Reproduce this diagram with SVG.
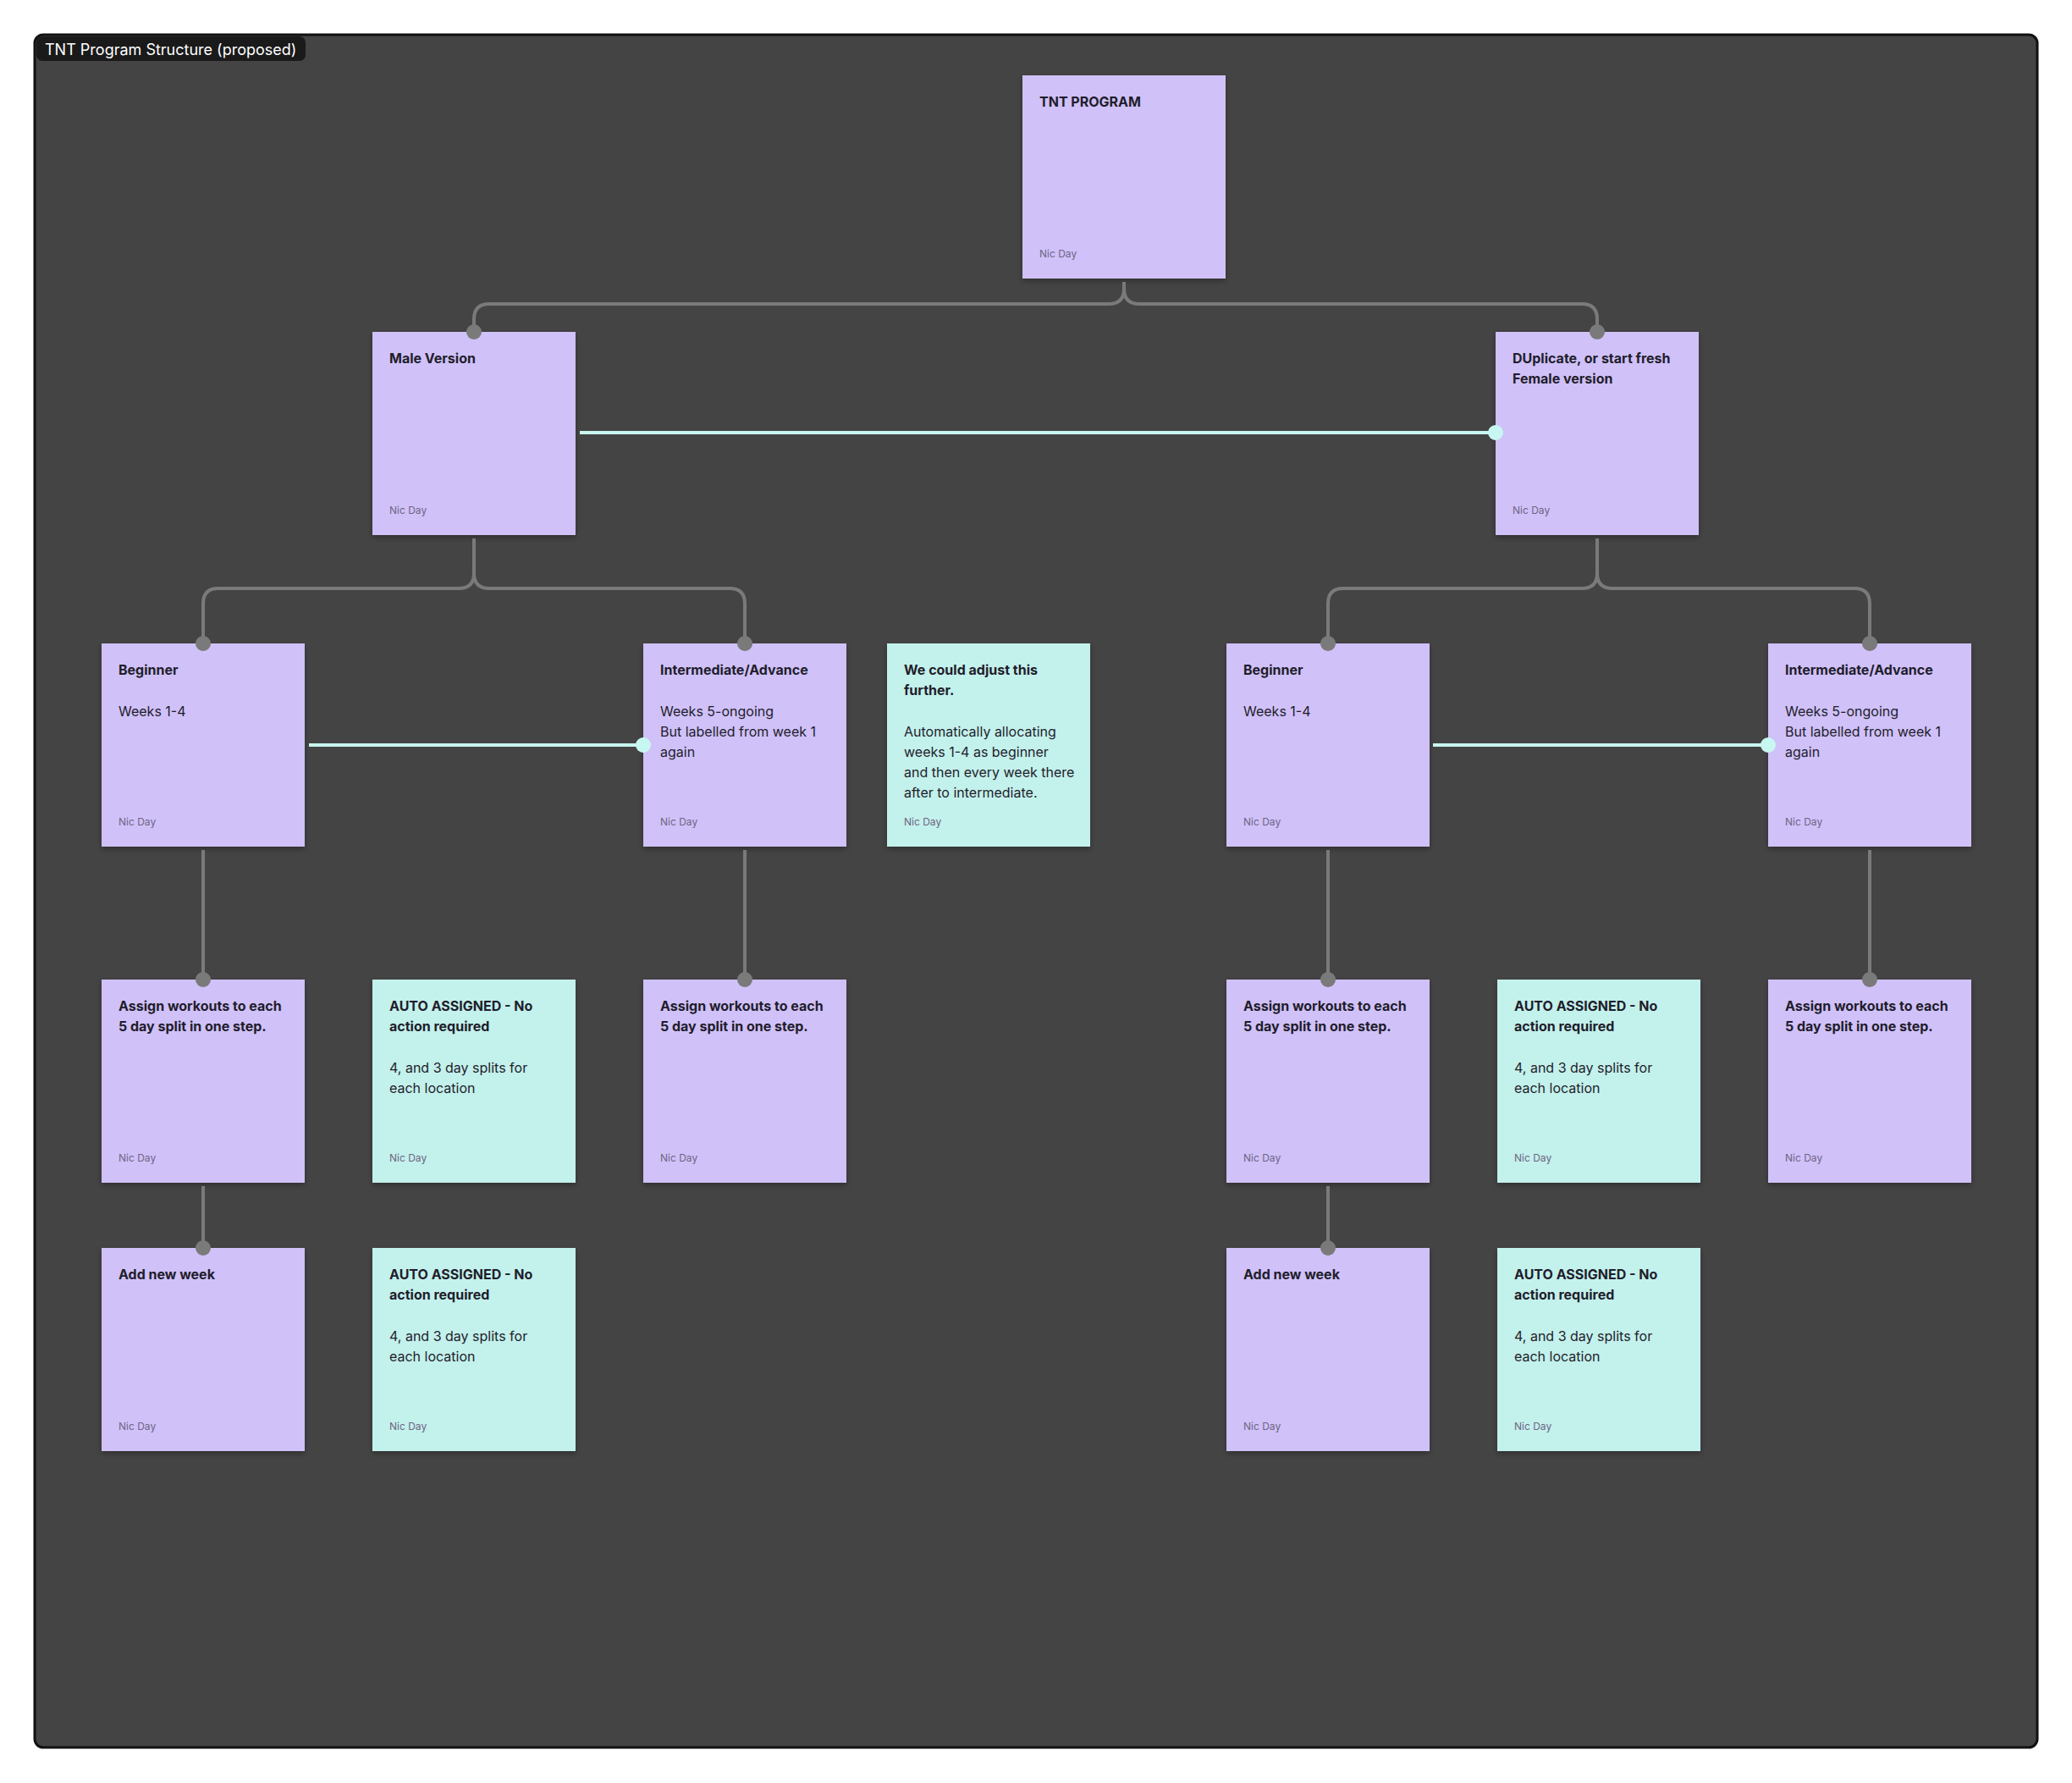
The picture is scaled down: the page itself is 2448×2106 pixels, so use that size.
<svg xmlns="http://www.w3.org/2000/svg" width="2448" height="2106" viewBox="0 0 2448 2106">
<style>
.p{fill:#d0c1f9}.t{fill:#c3f1ec}
.h{font-family:Inter,"Liberation Sans",sans-serif;font-size:16px;font-weight:700;fill:#1f1d2b}
.b{font-family:Inter,"Liberation Sans",sans-serif;font-size:16px;fill:#1f1d2b}
.a{font-family:Inter,"Liberation Sans",sans-serif;font-size:12px;fill:#6e6684}
.c{fill:none;stroke:#7a7a7a;stroke-width:4}
.l{fill:none;stroke:#c8f6f1;stroke-width:4}
.d{fill:#7a7a7a}.e{fill:#c8f6f1}
</style>
<defs><filter id="sh" x="-10%" y="-10%" width="120%" height="125%"><feDropShadow dx="0" dy="3" stdDeviation="3" flood-color="#000" flood-opacity="0.3"/></filter></defs>
<rect x="0" y="0" width="2448" height="2106" fill="#fff"/>
<rect x="41" y="41" width="2366" height="2023" rx="10" fill="#444" stroke="#111" stroke-width="3"/>
<rect x="43" y="43" width="318" height="29" rx="7" fill="#1a1a1a"/>
<text x="53" y="65" font-family="Inter,'Liberation Sans',sans-serif" font-size="18" fill="#fff">TNT Program Structure (proposed)</text>
<g id="n-tnt"><rect class="p" x="1208" y="89" width="240" height="240" filter="url(#sh)"/><text class="h" x="1228" y="126">TNT PROGRAM</text><text class="a" x="1228" y="304">Nic Day</text></g>
<g id="n-male"><rect class="p" x="440" y="392" width="240" height="240" filter="url(#sh)"/><text class="h" x="460" y="429">Male Version</text><text class="a" x="460" y="607">Nic Day</text></g>
<g id="n-female"><rect class="p" x="1767" y="392" width="240" height="240" filter="url(#sh)"/><text class="h" x="1787" y="429">DUplicate, or start fresh</text><text class="h" x="1787" y="453">Female version</text><text class="a" x="1787" y="607">Nic Day</text></g>
<g id="n-beg1"><rect class="p" x="120" y="760" width="240" height="240" filter="url(#sh)"/><text class="h" x="140" y="797">Beginner</text><text class="b" x="140" y="846">Weeks 1-4</text><text class="a" x="140" y="975">Nic Day</text></g>
<g id="n-int1"><rect class="p" x="760" y="760" width="240" height="240" filter="url(#sh)"/><text class="h" x="780" y="797">Intermediate/Advance</text><text class="b" x="780" y="846">Weeks 5-ongoing</text><text class="b" x="780" y="870">But labelled from week 1</text><text class="b" x="780" y="894">again</text><text class="a" x="780" y="975">Nic Day</text></g>
<g id="n-note"><rect class="t" x="1048" y="760" width="240" height="240" filter="url(#sh)"/><text class="h" x="1068" y="797">We could adjust this</text><text class="h" x="1068" y="821">further.</text><text class="b" x="1068" y="870">Automatically allocating</text><text class="b" x="1068" y="894">weeks 1-4 as beginner</text><text class="b" x="1068" y="918">and then every week there</text><text class="b" x="1068" y="942">after to intermediate.</text><text class="a" x="1068" y="975">Nic Day</text></g>
<g id="n-beg2"><rect class="p" x="1449" y="760" width="240" height="240" filter="url(#sh)"/><text class="h" x="1469" y="797">Beginner</text><text class="b" x="1469" y="846">Weeks 1-4</text><text class="a" x="1469" y="975">Nic Day</text></g>
<g id="n-int2"><rect class="p" x="2089" y="760" width="240" height="240" filter="url(#sh)"/><text class="h" x="2109" y="797">Intermediate/Advance</text><text class="b" x="2109" y="846">Weeks 5-ongoing</text><text class="b" x="2109" y="870">But labelled from week 1</text><text class="b" x="2109" y="894">again</text><text class="a" x="2109" y="975">Nic Day</text></g>
<g id="n-as1"><rect class="p" x="120" y="1157" width="240" height="240" filter="url(#sh)"/><text class="h" x="140" y="1194">Assign workouts to each</text><text class="h" x="140" y="1218">5 day split in one step.</text><text class="a" x="140" y="1372">Nic Day</text></g>
<g id="n-auto1"><rect class="t" x="440" y="1157" width="240" height="240" filter="url(#sh)"/><text class="h" x="460" y="1194">AUTO ASSIGNED - No</text><text class="h" x="460" y="1218">action required</text><text class="b" x="460" y="1267">4, and 3 day splits for</text><text class="b" x="460" y="1291">each location</text><text class="a" x="460" y="1372">Nic Day</text></g>
<g id="n-as2"><rect class="p" x="760" y="1157" width="240" height="240" filter="url(#sh)"/><text class="h" x="780" y="1194">Assign workouts to each</text><text class="h" x="780" y="1218">5 day split in one step.</text><text class="a" x="780" y="1372">Nic Day</text></g>
<g id="n-as3"><rect class="p" x="1449" y="1157" width="240" height="240" filter="url(#sh)"/><text class="h" x="1469" y="1194">Assign workouts to each</text><text class="h" x="1469" y="1218">5 day split in one step.</text><text class="a" x="1469" y="1372">Nic Day</text></g>
<g id="n-auto2"><rect class="t" x="1769" y="1157" width="240" height="240" filter="url(#sh)"/><text class="h" x="1789" y="1194">AUTO ASSIGNED - No</text><text class="h" x="1789" y="1218">action required</text><text class="b" x="1789" y="1267">4, and 3 day splits for</text><text class="b" x="1789" y="1291">each location</text><text class="a" x="1789" y="1372">Nic Day</text></g>
<g id="n-as4"><rect class="p" x="2089" y="1157" width="240" height="240" filter="url(#sh)"/><text class="h" x="2109" y="1194">Assign workouts to each</text><text class="h" x="2109" y="1218">5 day split in one step.</text><text class="a" x="2109" y="1372">Nic Day</text></g>
<g id="n-week1"><rect class="p" x="120" y="1474" width="240" height="240" filter="url(#sh)"/><text class="h" x="140" y="1511">Add new week</text><text class="a" x="140" y="1689">Nic Day</text></g>
<g id="n-auto3"><rect class="t" x="440" y="1474" width="240" height="240" filter="url(#sh)"/><text class="h" x="460" y="1511">AUTO ASSIGNED - No</text><text class="h" x="460" y="1535">action required</text><text class="b" x="460" y="1584">4, and 3 day splits for</text><text class="b" x="460" y="1608">each location</text><text class="a" x="460" y="1689">Nic Day</text></g>
<g id="n-week2"><rect class="p" x="1449" y="1474" width="240" height="240" filter="url(#sh)"/><text class="h" x="1469" y="1511">Add new week</text><text class="a" x="1469" y="1689">Nic Day</text></g>
<g id="n-auto4"><rect class="t" x="1769" y="1474" width="240" height="240" filter="url(#sh)"/><text class="h" x="1789" y="1511">AUTO ASSIGNED - No</text><text class="h" x="1789" y="1535">action required</text><text class="b" x="1789" y="1584">4, and 3 day splits for</text><text class="b" x="1789" y="1608">each location</text><text class="a" x="1789" y="1689">Nic Day</text></g>
<g id="connectors">
<path class="c" d="M1328,333 L1328,341 Q1328,359 1310,359 L578,359 Q560,359 560,377 L560,392"/>
<path class="c" d="M1328,333 L1328,341 Q1328,359 1346,359 L1869,359 Q1887,359 1887,377 L1887,392"/>
<path class="c" d="M560,636 L560,677 Q560,695 542,695 L258,695 Q240,695 240,713 L240,760"/>
<path class="c" d="M560,636 L560,677 Q560,695 578,695 L862,695 Q880,695 880,713 L880,760"/>
<path class="c" d="M1887,636 L1887,677 Q1887,695 1869,695 L1587,695 Q1569,695 1569,713 L1569,760"/>
<path class="c" d="M1887,636 L1887,677 Q1887,695 1905,695 L2191,695 Q2209,695 2209,713 L2209,760"/>
<path class="c" d="M240,1004 L240,1157"/><path class="c" d="M880,1004 L880,1157"/>
<path class="c" d="M1569,1004 L1569,1157"/><path class="c" d="M2209,1004 L2209,1157"/>
<path class="c" d="M240,1401 L240,1474"/><path class="c" d="M1569,1401 L1569,1474"/>
<g class="d"><circle cx="560" cy="392" r="9"/><circle cx="1887" cy="392" r="9"/><circle cx="240" cy="760" r="9"/><circle cx="880" cy="760" r="9"/><circle cx="1569" cy="760" r="9"/><circle cx="2209" cy="760" r="9"/><circle cx="240" cy="1157" r="9"/><circle cx="880" cy="1157" r="9"/><circle cx="1569" cy="1157" r="9"/><circle cx="2209" cy="1157" r="9"/><circle cx="240" cy="1474" r="9"/><circle cx="1569" cy="1474" r="9"/></g>
<path class="l" d="M685,511 L1767,511"/><path class="l" d="M365,880 L760,880"/><path class="l" d="M1693,880 L2089,880"/>
<g class="e"><circle cx="1767" cy="511" r="9"/><circle cx="760" cy="880" r="9"/><circle cx="2089" cy="880" r="9"/></g>
</g>
</svg>
